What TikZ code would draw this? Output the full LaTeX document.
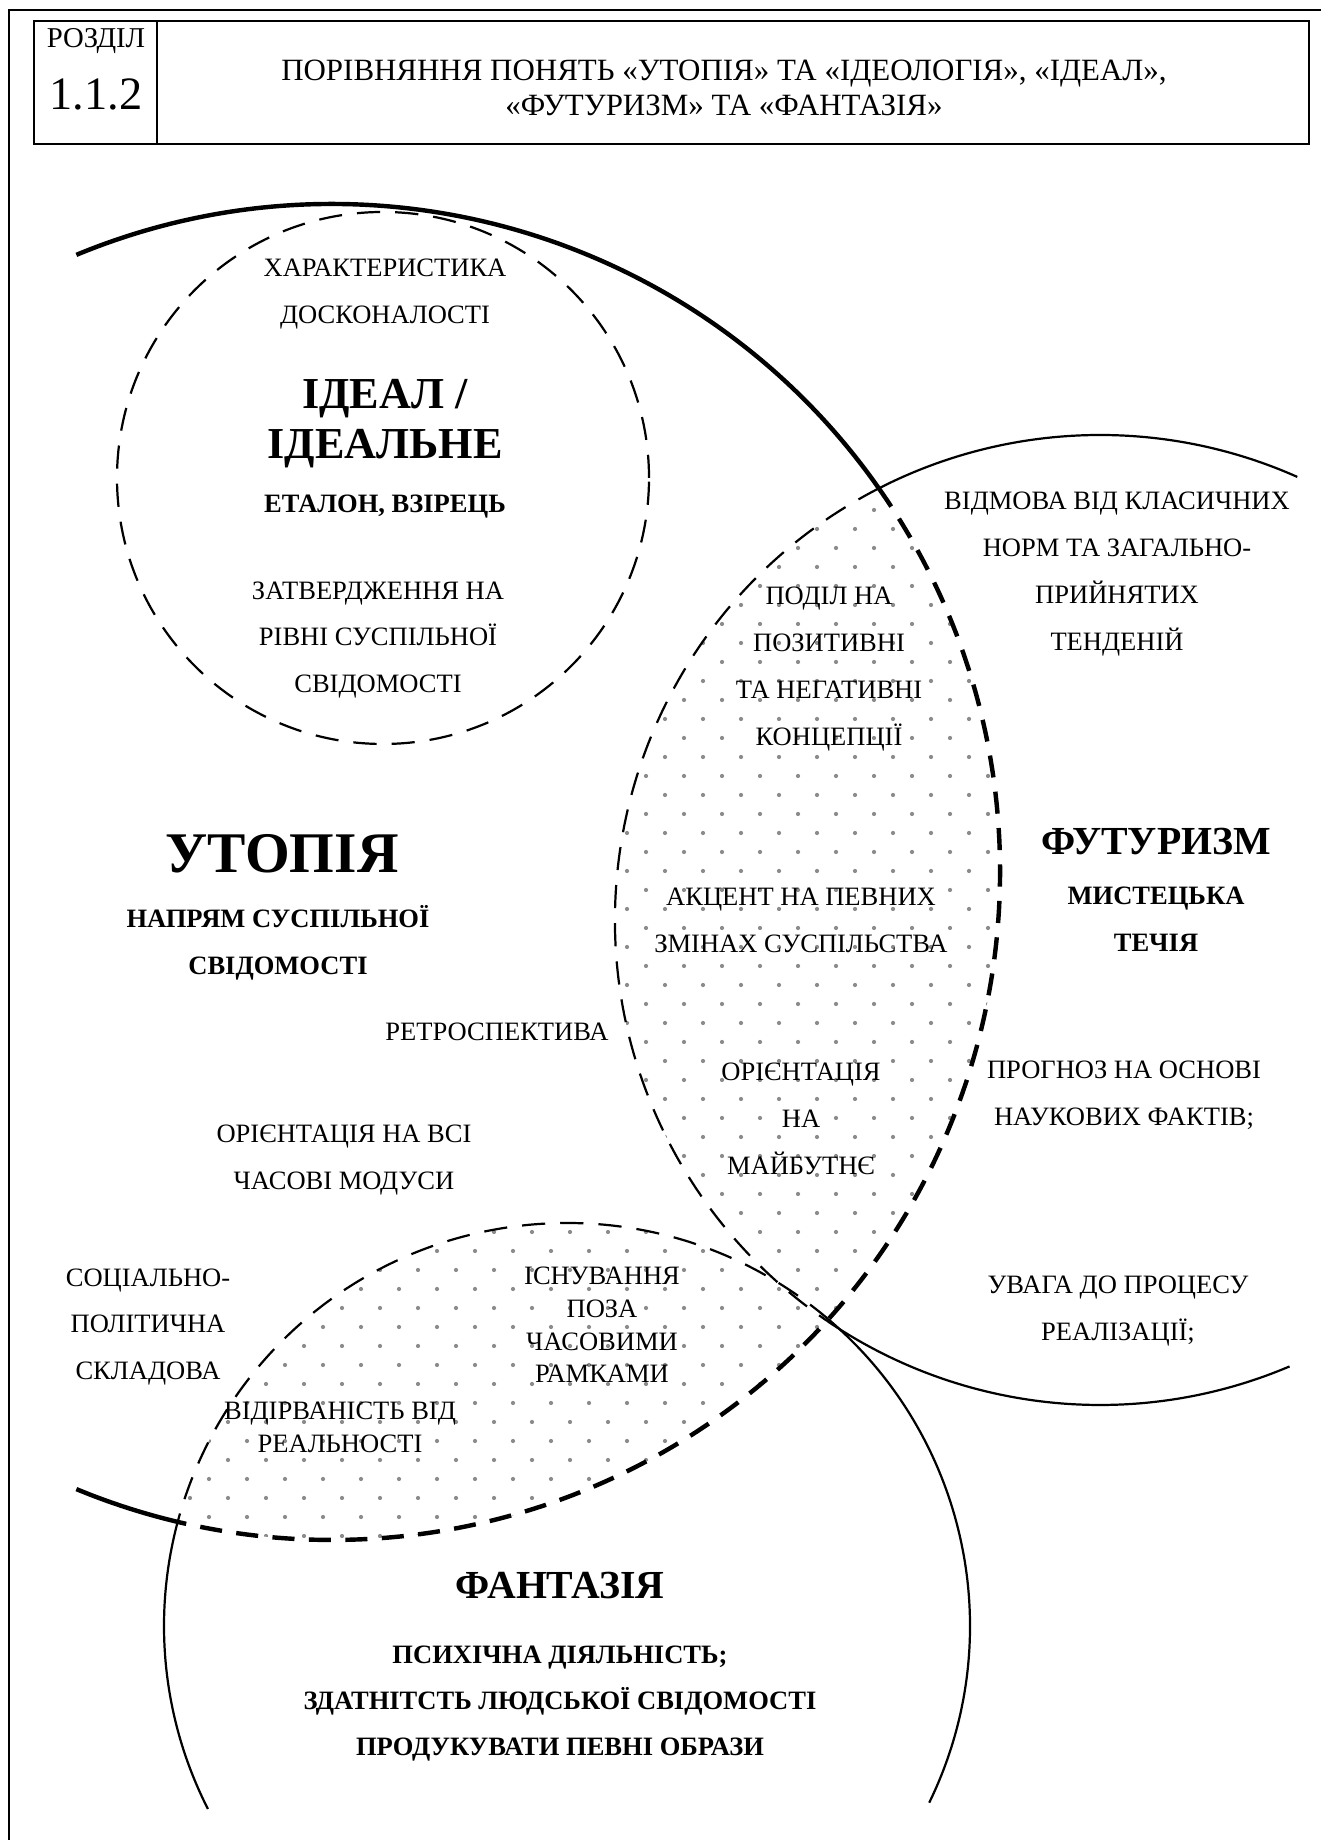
\documentclass[tikz,border=0pt]{standalone}
\usepackage{fontspec}
\setmainfont{Liberation Serif}
\usepackage{tikz}
\usetikzlibrary{positioning}

\begin{document}
\begin{tikzpicture}[
    x=0.15897mm, y=0.15897mm,
    txt/.style={align=center, inner sep=0pt, font=\fontsize{12}{21.2}\selectfont},
    txttight/.style={align=center, inner sep=0pt, font=\fontsize{12}{14.8}\selectfont},
    bigtitle/.style={align=center, inner sep=0pt, font=\bfseries\fontsize{20}{22.5}\selectfont},
    subtitle/.style={align=center, inner sep=0pt, font=\bfseries\fontsize{12}{21.2}\selectfont},
    ring/.style={line width=1pt},
    ringdash/.style={line width=1pt, dash pattern=on 10.5pt off 6.8pt},
    bigring/.style={line width=2pt},
    bigdash/.style={line width=2pt, dash pattern=on 10pt off 6.5pt},
    dot/.style={fill=gray!90}
]

\useasboundingbox (0,0) rectangle (1321,1840);

% Page frame
\draw[line width=0.5pt] (9,0) -- (9,1830) -- (1321,1830);

% Header
\draw[line width=0.9pt] (34,1696) rectangle (1309,1819);
\draw[line width=0.6pt] (157,1696) -- (157,1819);
\node[inner sep=0pt, font=\fontsize{13}{15}\selectfont] (sect) at (96,1799) {РОЗДІЛ};
\node[inner sep=0pt, font=\fontsize{21}{24}\selectfont] (sectnum) at (96,1746) {1.1.2};
\node[align=center, inner sep=0pt, font=\fontsize{14}{16.2}\selectfont] (heading) at (724,1752)
    {ПОРІВНЯННЯ ПОНЯТЬ «УТОПІЯ» ТА «ІДЕОЛОГІЯ», «ІДЕАЛ»,\\«ФУТУРИЗМ» ТА «ФАНТАЗІЯ»};

% Circle centres
\coordinate (utopia_c) at (332,968);
\coordinate (futur_c) at (1100,920);
\coordinate (fant_c) at (567,214);
\coordinate (ideal_c) at (383,1362);

% Dotted lenses
\begin{scope}
\clip (utopia_c) circle[radius=668];
\clip (futur_c) circle[radius=485];
\foreach \j in {26,...,72}
  \foreach \i in {15,...,28}
    \fill[dot] ({\i*38+mod(\j,2)*19},{\j*19}) circle[radius=2.1];
\end{scope}
\begin{scope}
\clip (utopia_c) circle[radius=668];
\clip (fant_c) circle[radius=403];
\foreach \j in {14,...,34}
  \foreach \i in {3,...,23}
    \fill[dot] ({\i*38+mod(\j,2)*19},{\j*19}) circle[radius=2.1];
\end{scope}

% Utopia
\draw[bigring] ([shift={(112.5:668)}]utopia_c) arc[start angle=112.5, end angle=35.06, radius=668];
\draw[bigdash] ([shift={(35.06:668)}]utopia_c) arc[start angle=35.06, end angle=-103.36, radius=668];
\draw[bigring] ([shift={(-103.36:668)}]utopia_c) arc[start angle=-103.36, end angle=-112.5, radius=668];

% Futurism
\draw[ring] ([shift={(117.13:485)}]futur_c) arc[start angle=117.13, end angle=66, radius=485];
\draw[ringdash] ([shift={(117.13:485)}]futur_c) arc[start angle=117.13, end angle=235.72, radius=485];
\draw[ring] ([shift={(235.72:485)}]futur_c) arc[start angle=235.72, end angle=293, radius=485];

% Fantasy
\draw[ring] ([shift={(-26:403)}]fant_c) arc[start angle=-26, end angle=49.6, radius=403];
\draw[ringdash] ([shift={(49.6:403)}]fant_c) arc[start angle=49.6, end angle=165, radius=403];
\draw[ring] ([shift={(165:403)}]fant_c) arc[start angle=165, end angle=207, radius=403];

% Ideal
\draw[ringdash] (ideal_c) circle[radius=266];

% Ideal texts
\node[txt] (ideal_top) at (385,1546) {ХАРАКТЕРИСТИКА\\ДОСКОНАЛОСТІ};
\node[bigtitle] (ideal) at (385,1416) {ІДЕАЛ /\\ІДЕАЛЬНЕ};
\node[subtitle] (ideal_sub) at (385,1333) {ЕТАЛОН, ВЗІРЕЦЬ};
\node[txt] (ideal_bottom) at (378,1200) {ЗАТВЕРДЖЕННЯ НА\\РІВНІ СУСПІЛЬНОЇ\\СВІДОМОСТІ};

% Utopia texts
\node[bigtitle, font=\bfseries\fontsize{26}{28}\selectfont] (utopia) at (282,986) {УТОПІЯ};
\node[subtitle] (utopia_sub) at (278,897) {НАПРЯМ СУСПІЛЬНОЇ\\СВІДОМОСТІ};
\node[txt] (retro) at (497,808) {РЕТРОСПЕКТИВА};
\node[txt] (alltime) at (344,680) {ОРІЄНТАЦІЯ НА ВСІ\\ЧАСОВІ МОДУСИ};
\node[txt] (social) at (148,513) {СОЦІАЛЬНО-\\ПОЛІТИЧНА\\СКЛАДОВА};

% Futurism lens texts
\node[txt] (division) at (829,1171) {ПОДІЛ НА\\ПОЗИТИВНІ\\ТА НЕГАТИВНІ\\КОНЦЕПЦІЇ};
\node[txt] (accent) at (801,920) {АКЦЕНТ НА ПЕВНИХ\\ЗМІНАХ СУСПІЛЬСТВА};
\node[txt] (future) at (801,721) {ОРІЄНТАЦІЯ\\НА\\МАЙБУТНЄ};

% Futurism texts
\node[txt] (refusal) at (1117,1266) {ВІДМОВА ВІД КЛАСИЧНИХ\\НОРМ ТА ЗАГАЛЬНО-\\ПРИЙНЯТИХ\\ТЕНДЕНІЙ};
\node[bigtitle, font=\bfseries\fontsize{18}{20}\selectfont] (futurism) at (1156,998) {ФУТУРИЗМ};
\node[subtitle] (futurism_sub) at (1156,921) {МИСТЕЦЬКА\\ТЕЧІЯ};
\node[txt] (forecast) at (1124,745) {ПРОГНОЗ НА ОСНОВІ\\НАУКОВИХ ФАКТІВ;};
\node[txt] (process) at (1118,529) {УВАГА ДО ПРОЦЕСУ\\РЕАЛІЗАЦІЇ;};

% Fantasy lens texts
\node[txttight] (outside) at (602,515) {ІСНУВАННЯ\\ПОЗА\\ЧАСОВИМИ\\РАМКАМИ};
\node[txttight] (detach) at (340,413) {ВІДІРВАНІСТЬ ВІД\\РЕАЛЬНОСТІ};

% Fantasy texts
\node[bigtitle, font=\bfseries\fontsize{18}{20}\selectfont] (fantasy) at (560,254) {ФАНТАЗІЯ};
\node[subtitle, font=\bfseries\fontsize{12}{20.8}\selectfont] (fantasy_sub) at (560,136) {ПСИХІЧНА ДІЯЛЬНІСТЬ;\\ЗДАТНІТСТЬ ЛЮДСЬКОЇ СВІДОМОСТІ\\ПРОДУКУВАТИ ПЕВНІ ОБРАЗИ};

\end{tikzpicture}
\end{document}
